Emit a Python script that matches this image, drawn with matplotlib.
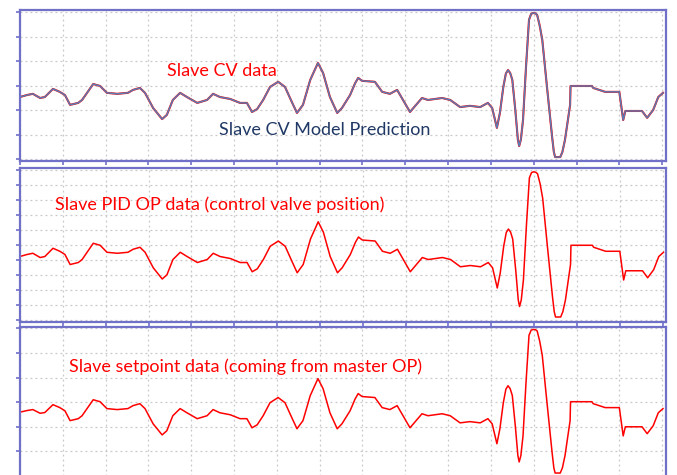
import matplotlib
matplotlib.use("Agg")
import matplotlib.pyplot as plt

# sample positions (x grid units) and values
x_pos = [0.04, 0.16, 0.30, 0.47, 0.58, 0.77, 0.93, 1.05, 1.17, 1.36,
         1.45, 1.71, 1.87, 2.03, 2.27, 2.52, 2.64, 2.80, 2.92, 3.11,
         3.32, 3.43, 3.57, 3.74, 3.90, 4.14, 4.37, 4.51, 4.67, 4.91,
         5.14, 5.30, 5.42, 5.54, 5.68, 5.84, 6.03, 6.19, 6.36, 6.47,
         6.61, 6.78, 6.96, 7.08, 7.24, 7.41, 7.52, 7.71, 7.83, 7.90,
         7.99, 8.29, 8.46, 8.64, 8.81, 8.88, 9.11, 9.39, 9.53, 9.86,
         10.05, 10.28, 10.51, 10.75, 10.93, 11.03, 11.14, 11.21, 11.29, 11.35,
         11.40, 11.45, 11.50, 11.57, 11.63, 11.66, 11.70, 11.75, 11.82, 11.89,
         11.94, 11.99, 12.04, 12.08, 12.14, 12.20, 12.31, 12.43, 12.47, 12.50,
         12.62, 12.67, 12.73, 12.85, 12.86, 13.36, 13.39, 13.67, 14.00, 14.09,
         14.14, 14.53, 14.65, 14.79, 14.91, 15.02]

cv_data = [2.56, 2.62, 2.67, 2.50, 2.54, 2.87, 2.75, 2.62, 2.22, 2.30,
           2.42, 3.07, 2.99, 2.71, 2.67, 2.71, 2.83, 2.91, 2.71, 2.09,
           1.64, 1.81, 2.42, 2.71, 2.54, 2.30, 2.42, 2.67, 2.54, 2.46,
           2.30, 2.30, 1.93, 2.05, 2.42, 2.95, 3.16, 2.95, 2.30, 1.89,
           2.22, 3.24, 3.93, 3.52, 2.54, 1.89, 2.09, 2.62, 3.11, 3.32,
           3.20, 3.16, 2.75, 2.67, 2.83, 2.62, 1.93, 2.50, 2.42, 2.50,
           2.42, 2.13, 2.18, 2.13, 2.30, 2.09, 1.28, 1.89, 2.95, 3.50,
           3.64, 3.52, 3.24, 2.01, 0.80, 0.54, 0.80, 1.60, 3.77, 5.69,
           5.93, 5.97, 5.95, 5.89, 5.45, 4.87, 2.95, 0.91, 0.30, 0.09,
           0.09, 0.30, 0.79, 2.22, 2.99, 2.99, 2.91, 2.75, 2.75, 1.60,
           1.97, 1.97, 1.69, 2.01, 2.54, 2.71]

op_data = [2.56, 2.62, 2.67, 2.50, 2.54, 2.87, 2.75, 2.62, 2.22, 2.30,
           2.42, 3.07, 2.99, 2.71, 2.67, 2.71, 2.83, 2.91, 2.71, 2.09,
           1.64, 1.81, 2.42, 2.71, 2.54, 2.30, 2.42, 2.67, 2.54, 2.46,
           2.30, 2.30, 1.93, 2.05, 2.42, 2.95, 3.16, 2.95, 2.30, 1.89,
           2.22, 3.24, 3.93, 3.52, 2.54, 1.89, 2.09, 2.62, 3.11, 3.32,
           3.20, 3.16, 2.75, 2.67, 2.83, 2.62, 1.93, 2.50, 2.42, 2.50,
           2.42, 2.13, 2.18, 2.13, 2.30, 2.09, 1.28, 1.89, 2.95, 3.50,
           3.64, 3.52, 3.24, 2.01, 0.80, 0.54, 0.80, 1.60, 3.77, 5.69,
           5.90, 5.93, 5.91, 5.85, 5.45, 4.87, 2.95, 0.91, 0.33, 0.12,
           0.12, 0.33, 0.79, 2.22, 2.99, 2.99, 2.91, 2.75, 2.75, 1.60,
           1.97, 1.97, 1.69, 2.01, 2.54, 2.71]

sp_data = [2.61, 2.66, 2.70, 2.55, 2.58, 2.90, 2.78, 2.65, 2.25, 2.33,
           2.45, 3.10, 3.02, 2.74, 2.70, 2.74, 2.86, 2.94, 2.74, 2.12,
           1.67, 1.84, 2.45, 2.74, 2.57, 2.33, 2.45, 2.70, 2.57, 2.49,
           2.33, 2.33, 1.96, 2.08, 2.45, 2.98, 3.19, 2.98, 2.33, 1.92,
           2.25, 3.27, 3.96, 3.55, 2.57, 1.92, 2.12, 2.65, 3.14, 3.35,
           3.23, 3.19, 2.78, 2.70, 2.86, 2.65, 1.96, 2.53, 2.45, 2.53,
           2.45, 2.16, 2.21, 2.16, 2.33, 2.12, 1.31, 1.92, 2.98, 3.53,
           3.67, 3.55, 3.27, 2.04, 0.83, 0.57, 0.83, 1.63, 3.80, 5.72,
           5.93, 5.96, 5.95, 5.90, 5.48, 4.90, 2.98, 0.94, 0.33, 0.12,
           0.12, 0.33, 0.82, 2.25, 3.02, 3.02, 2.94, 2.78, 2.78, 1.63,
           2.00, 2.00, 1.72, 2.04, 2.57, 2.74]

labels = ["Slave CV data", "Slave CV Model Prediction",
          "Slave PID OP data (control valve position)",
          "Slave setpoint data (coming from master OP)"]

RED = "#ff0000"
NAVY = "#1f3864"
MODEL_BLUE = "#5b7bb4"
FRAME = "#7070c8"
GRID = "#c8c8c8"

W, H = 677, 475


def make_axes(fig, left, top, right, bottom, ylim, ystep):
	ax = fig.add_axes([left / W, 1 - bottom / H, (right - left) / W, (bottom - top) / H])
	ax.set_xlim(0, 15.09)
	ax.set_ylim(*ylim)
	ax.set_xticks(range(0, 16))
	n = int(round(6 / ystep))
	ax.set_yticks([i * ystep for i in range(n + 1)])
	ax.tick_params(colors=FRAME, length=3, width=1.2, direction="out",
				   labelleft=False, labelbottom=False)
	ax.grid(True, linestyle=(0, (1.5, 2.5)), color=GRID, linewidth=0.9)
	ax.set_axisbelow(True)
	for s in ax.spines.values():
		s.set_color(FRAME)
		s.set_linewidth(1.6)
	return ax


def label(ax, px, py, text, color):
	# px, py: pixel position measured from the top-left corner
	ax.text(px / W, 1 - py / H, text, transform=ax.figure.transFigure,
			color=color, fontsize=13, family=["Lato", "DejaVu Sans"], va="center")


fig = plt.figure(figsize=(W / 100, H / 100), dpi=100)
fig.patch.set_facecolor("white")

ax1 = make_axes(fig, 20, 10, 666, 160.5, (-0.05, 6.09), 1)
ax1.plot(x_pos, cv_data, color=RED, linewidth=1.5)
ax1.plot(x_pos, cv_data, color=MODEL_BLUE, linewidth=1.1)
label(ax1, 167, 71, labels[0], RED)
label(ax1, 219, 130, labels[1], NAVY)

ax2 = make_axes(fig, 20, 168.3, 666.5, 322, (-0.08, 6.07), 0.6)
ax2.plot(x_pos, op_data, color=RED, linewidth=1.1)
label(ax2, 55, 205, labels[2], RED)

ax3 = make_axes(fig, 20, 326.7, 666, 477.7, (-0.07, 6.07), 1)
ax3.plot(x_pos, sp_data, color=RED, linewidth=1.1)
label(ax3, 69, 367, labels[3], RED)

fig.savefig("out.png", dpi=100)
